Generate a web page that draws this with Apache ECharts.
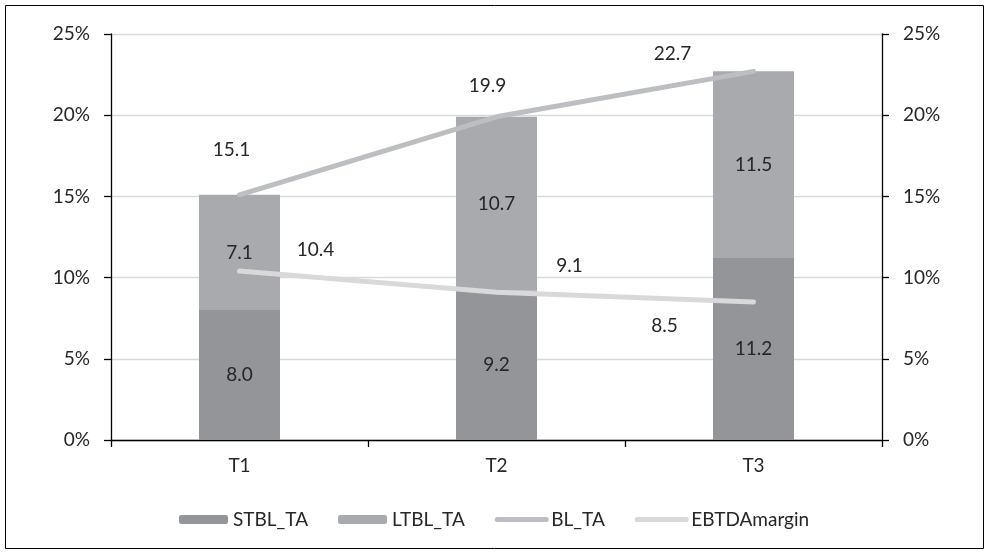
<!DOCTYPE html>
<html>
<head>
<meta charset="utf-8">
<script src="https://cdn.jsdelivr.net/npm/echarts@6/dist/echarts.min.js"></script>
<style>
html,body{margin:0;padding:0;background:#fff;}
#chart{width:989px;height:553px;}
</style>
</head>
<body>
<div id="chart"></div>
<script>
var categories = ['T1', 'T2', 'T3'];
var stblTA = [8.0, 9.2, 11.2];
var ltblTA = [7.1, 10.7, 11.5];
var blTA = [15.1, 19.9, 22.7];
var ebtdaMargin = [10.4, 9.1, 8.5];
var yTicks = [0, 5, 10, 15, 20, 25];

// label offsets (style only)
var blOffsets = [[-8, -45], [-9, -31], [-81, -17]];
var ebOffsets = [[76, -21], [73, -26], [-89, 24]];

var FONT = 'Lato';
var TXT = '#262626';
var C_ST = '#939598', C_LT = '#a9aaad', C_BL = '#bdbec1', C_EB = '#d9d9d9';

function lineData(vals, offs) {
  return vals.map(function (v, i) {
    return { value: v, label: { offset: offs[i] } };
  });
}
function fmt(p) { return p.value.toFixed(1); }

var chart = echarts.init(document.getElementById('chart'));
var yAxisBase = {
  type: 'value', min: yTicks[0], max: yTicks[yTicks.length - 1], interval: 5,
  axisLine: { show: true, lineStyle: { color: '#000', width: 1.3 } },
  axisTick: { show: true, length: 7, lineStyle: { color: '#000', width: 1.3 } },
  axisLabel: { formatter: '{value}%', color: TXT, fontFamily: FONT, fontSize: 19, margin: 21 }
};
chart.setOption({
  animation: false,
  backgroundColor: '#fff',
  textStyle: { fontFamily: FONT },
  graphic: [{
    type: 'rect', shape: { x: 5.5, y: 5.5, width: 978, height: 543 },
    style: { fill: 'none', stroke: '#000', lineWidth: 1 }, silent: true
  }],
  grid: { left: 111, right: 107, top: 34, bottom: 113 },
  legend: {
    top: 505, left: 174,
    itemWidth: 49, itemHeight: 9, itemGap: 30,
    textStyle: { color: TXT, fontFamily: FONT, fontSize: 19 },
    data: [
      { name: 'STBL_TA' },
      { name: 'LTBL_TA' },
      { name: 'BL_TA', lineStyle: { width: 5, cap: 'round' }, itemStyle: { opacity: 0 } },
      { name: 'EBTDAmargin', lineStyle: { width: 5, cap: 'round' }, itemStyle: { opacity: 0 } }
    ]
  },
  xAxis: {
    type: 'category', data: categories,
    axisLine: { lineStyle: { color: '#000', width: 1.3 } },
    axisTick: { show: true, length: 7, alignWithLabel: false, lineStyle: { color: '#000', width: 1.3 } },
    axisLabel: { color: TXT, fontFamily: FONT, fontSize: 19, margin: 16 }
  },
  yAxis: [
    Object.assign({}, yAxisBase, {
      position: 'left',
      splitLine: { show: true, lineStyle: { color: '#d9d9d9', width: 1.3 } }
    }),
    Object.assign({}, yAxisBase, {
      position: 'right',
      splitLine: { show: false }
    })
  ],
  series: [
    {
      name: 'STBL_TA', type: 'bar', stack: 'ta', data: stblTA, barWidth: 81,
      itemStyle: { color: C_ST },
      label: { show: true, position: 'inside', color: TXT, fontFamily: FONT, fontSize: 19, formatter: fmt }
    },
    {
      name: 'LTBL_TA', type: 'bar', stack: 'ta', data: ltblTA, barWidth: 81,
      itemStyle: { color: C_LT },
      label: { show: true, position: 'inside', color: TXT, fontFamily: FONT, fontSize: 19, formatter: fmt }
    },
    {
      name: 'BL_TA', type: 'line', data: lineData(blTA, blOffsets), z: 5,
      symbol: 'circle', symbolSize: 1, showSymbol: true,
      itemStyle: { color: C_BL },
      lineStyle: { color: C_BL, width: 5, cap: 'round', join: 'round' },
      label: { show: true, position: 'inside', color: TXT, fontFamily: FONT, fontSize: 19, formatter: fmt }
    },
    {
      name: 'EBTDAmargin', type: 'line', data: lineData(ebtdaMargin, ebOffsets), z: 5,
      symbol: 'circle', symbolSize: 1, showSymbol: true,
      itemStyle: { color: C_EB },
      lineStyle: { color: C_EB, width: 5, cap: 'round', join: 'round' },
      label: { show: true, position: 'inside', color: TXT, fontFamily: FONT, fontSize: 19, formatter: fmt }
    }
  ]
});
</script>
</body>
</html>
